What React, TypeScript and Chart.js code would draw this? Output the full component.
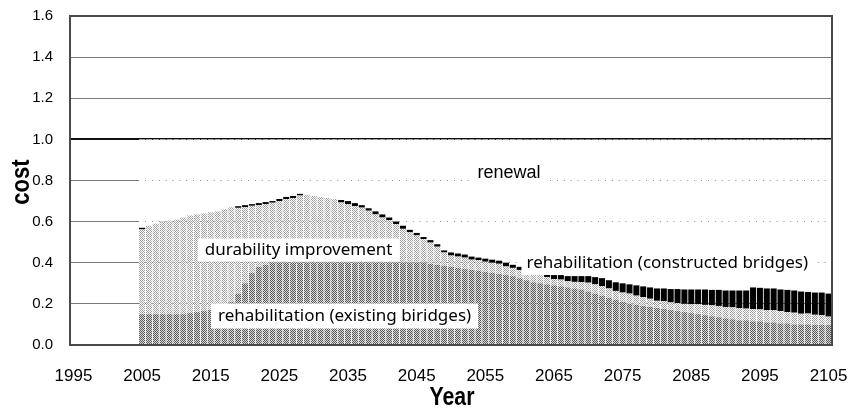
import React, { useEffect, useRef } from "react";
import { Chart, registerables } from "chart.js";

Chart.register(...registerables);

const FIRST_YEAR = 1995;
const LAST_YEAR = 2105;
const DATA_START_YEAR = 2005;
const TICK_YEARS = [1995, 2005, 2015, 2025, 2035, 2045, 2055, 2065, 2075, 2085, 2095, 2105];
const Y_MIN = 0;
const Y_MAX = 1.6;
const Y_STEP = 0.2;
const TOTAL_LEVEL = 1.0;

// values for 2005 .. 2105
const REHAB_EXISTING = [
  0.15, 0.15, 0.15, 0.15, 0.15, 0.15, 0.15, 0.155, 0.16, 0.165,
  0.17, 0.18, 0.19, 0.21, 0.25, 0.30, 0.35, 0.38, 0.39, 0.40,
  0.40, 0.40, 0.40, 0.40, 0.40, 0.40, 0.40, 0.40, 0.40, 0.40,
  0.40, 0.40, 0.40, 0.40, 0.40, 0.40, 0.40, 0.40, 0.40, 0.40,
  0.40, 0.40, 0.395, 0.39, 0.385, 0.38, 0.375, 0.37, 0.365, 0.36,
  0.355, 0.35, 0.345, 0.34, 0.335, 0.325, 0.315, 0.305, 0.30, 0.295,
  0.29, 0.285, 0.28, 0.275, 0.27, 0.26, 0.25, 0.24, 0.23, 0.22,
  0.21, 0.20, 0.195, 0.19, 0.185, 0.18, 0.175, 0.17, 0.165, 0.16,
  0.155, 0.15, 0.145, 0.14, 0.135, 0.13, 0.125, 0.12, 0.12, 0.115,
  0.115, 0.11, 0.11, 0.105, 0.105, 0.10, 0.10, 0.10, 0.098, 0.097,
  0.097,
];
const DURABILITY = [
  0.412, 0.43, 0.44, 0.45, 0.455, 0.46, 0.47, 0.475, 0.475, 0.475,
  0.475, 0.47, 0.47, 0.46, 0.417, 0.37, 0.327, 0.30, 0.295, 0.292,
  0.30, 0.31, 0.315, 0.327, 0.33, 0.325, 0.32, 0.315, 0.31, 0.293,
  0.285, 0.275, 0.268, 0.253, 0.235, 0.22, 0.208, 0.188, 0.165, 0.148,
  0.133, 0.115, 0.103, 0.088, 0.065, 0.055, 0.055, 0.055, 0.05, 0.053,
  0.05, 0.05, 0.05, 0.042, 0.04, 0.04, 0.04, 0.04, 0.04, 0.035,
  0.03, 0.033, 0.03, 0.032, 0.035, 0.043, 0.045, 0.047, 0.045, 0.043,
  0.045, 0.05, 0.045, 0.043, 0.04, 0.035, 0.038, 0.037, 0.039, 0.04,
  0.043, 0.048, 0.05, 0.053, 0.055, 0.055, 0.058, 0.06, 0.057, 0.06,
  0.058, 0.06, 0.06, 0.06, 0.055, 0.057, 0.052, 0.053, 0.049, 0.048,
  0.041,
];
const REHAB_CONSTRUCTED = [
  0.008, 0, 0, 0, 0, 0, 0, 0, 0, 0,
  0, 0, 0, 0, 0.008, 0.01, 0.008, 0.01, 0.01, 0.008,
  0.01, 0.01, 0.01, 0.008, 0, 0, 0, 0, 0, 0.012,
  0.015, 0.015, 0.012, 0.012, 0.015, 0.015, 0.012, 0.012, 0.015, 0.012,
  0.012, 0.01, 0.012, 0.012, 0.01, 0.015, 0.015, 0.015, 0.015, 0.012,
  0.015, 0.015, 0.015, 0.018, 0.015, 0.015, 0.015, 0.015, 0.015, 0.015,
  0.02, 0.022, 0.025, 0.028, 0.03, 0.032, 0.035, 0.038, 0.04, 0.042,
  0.045, 0.045, 0.05, 0.052, 0.055, 0.06, 0.062, 0.065, 0.068, 0.07,
  0.072, 0.072, 0.075, 0.075, 0.078, 0.08, 0.082, 0.085, 0.088, 0.105,
  0.105, 0.105, 0.105, 0.105, 0.108, 0.108, 0.108, 0.105, 0.108, 0.11,
  0.112,
];
const RENEWAL = [
  0.43, 0.42, 0.41, 0.40, 0.395, 0.39, 0.38, 0.37, 0.365, 0.36,
  0.355, 0.35, 0.34, 0.33, 0.325, 0.32, 0.315, 0.31, 0.305, 0.30,
  0.29, 0.28, 0.275, 0.265, 0.27, 0.275, 0.28, 0.285, 0.29, 0.295,
  0.30, 0.31, 0.32, 0.335, 0.35, 0.365, 0.38, 0.40, 0.42, 0.44,
  0.455, 0.475, 0.49, 0.51, 0.54, 0.55, 0.555, 0.56, 0.57, 0.575,
  0.58, 0.585, 0.59, 0.60, 0.61, 0.62, 0.63, 0.64, 0.645, 0.655,
  0.66, 0.66, 0.665, 0.665, 0.665, 0.665, 0.67, 0.675, 0.685, 0.695,
  0.70, 0.705, 0.71, 0.715, 0.72, 0.725, 0.725, 0.728, 0.728, 0.73,
  0.73, 0.73, 0.73, 0.732, 0.732, 0.735, 0.735, 0.735, 0.735, 0.72,
  0.722, 0.725, 0.725, 0.73, 0.732, 0.735, 0.74, 0.742, 0.745, 0.745,
  0.75,
];

const SERIES_NAMES = [
  "rehabilitation (existing biridges)",
  "durability improvement",
  "rehabilitation (constructed bridges)",
  "renewal",
];

const SANS = "'Liberation Sans', Arial, sans-serif";
const HUMANIST = "'Noto Sans', 'Open Sans', sans-serif";

function makePattern(cells: string[][]): CanvasPattern | string {
  const c = document.createElement("canvas");
  const h = cells.length;
  const w = cells[0].length;
  c.width = w;
  c.height = h;
  const ctx = c.getContext("2d");
  if (!ctx) return "#bbbbbb";
  for (let y = 0; y < h; y++) {
    for (let x = 0; x < w; x++) {
      ctx.fillStyle = cells[y][x];
      ctx.fillRect(x, y, 1, 1);
    }
  }
  const p = ctx.createPattern(c, "repeat");
  return p || "#bbbbbb";
}

export default function App() {
  const canvasRef = useRef<HTMLCanvasElement | null>(null);

  useEffect(() => {
    if (!canvasRef.current) return;
    const years: string[] = [];
    for (let y = FIRST_YEAR; y <= LAST_YEAR; y++) years.push(String(y));
    const lead = DATA_START_YEAR - FIRST_YEAR;
    const pad = (arr: number[]) => [...new Array(lead).fill(null), ...arr];

    const D = "#555555";
    const L = "#dcdcdc";
    const W = "#ffffff";
    const G = "#9c9c9c";
    const existingPattern = makePattern([
      [D, L, D, L],
      [L, D, L, D],
      [D, L, D, L],
      [L, D, L, D],
    ]);
    const durabilityPattern = makePattern([
      [G, W, G, W],
      [W, G, W, "#b8b8b8"],
      [G, W, G, W],
      [W, "#b8b8b8", W, G],
    ]);

    const labelPlugin = {
      id: "innerLabels",
      afterDatasetsDraw(chart: any) {
        const ctx = chart.ctx;
        const xs = chart.scales.x;
        const ys = chart.scales.y;
        const items = [
          { text: SERIES_NAMES[3], idx: 63.45, v: 0.837, font: `18px ${SANS}`, px: 6, h: 20 },
          { text: SERIES_NAMES[1], idx: 32.8, v: 0.462, font: `17px ${HUMANIST}`, px: 7, h: 23 },
          { text: SERIES_NAMES[0], idx: 39.5, v: 0.141, font: `17px ${HUMANIST}`, px: 7, h: 25 },
          { text: SERIES_NAMES[2], idx: 86.5, v: 0.399, font: `17px ${HUMANIST}`, px: 5, h: 24 },
        ];
        ctx.save();
        for (const it of items) {
          const cx = xs.getPixelForValue(it.idx);
          const cy = ys.getPixelForValue(it.v);
          ctx.font = it.font;
          const w = ctx.measureText(it.text).width;
          ctx.fillStyle = "#ffffff";
          ctx.fillRect(cx - w / 2 - it.px, cy - it.h / 2, w + it.px * 2, it.h);
          ctx.fillStyle = "#000000";
          ctx.textAlign = "center";
          ctx.textBaseline = "middle";
          ctx.fillText(it.text, cx, cy);
        }
        ctx.restore();
      },
      afterDraw(chart: any) {
        const ctx = chart.ctx;
        const a = chart.chartArea;
        ctx.save();
        ctx.strokeStyle = "#4a4a4a";
        ctx.lineWidth = 2;
        ctx.strokeRect(a.left, a.top, a.right - a.left, a.bottom - a.top);
        ctx.fillStyle = "#000";
        ctx.font = `bold 26px ${SANS}`;
        ctx.textAlign = "center";
        ctx.textBaseline = "middle";
        ctx.save();
        ctx.translate(452, 398);
        ctx.scale(0.82, 1);
        ctx.fillText("Year", 0, 0);
        ctx.restore();
        ctx.translate(22, 182);
        ctx.rotate(-Math.PI / 2);
        ctx.scale(0.85, 1);
        ctx.fillText("cost", 0, 0);
        ctx.restore();
      },
    };

    const common = { barPercentage: 0.88, categoryPercentage: 1, borderWidth: 0, stack: "s" };
    const isTotal = (ctx: any) => ctx.tick && Math.abs(ctx.tick.value - TOTAL_LEVEL) < 1e-6;

    const chart = new Chart(canvasRef.current, {
      type: "bar",
      data: {
        labels: years,
        datasets: [
          { label: SERIES_NAMES[0], data: pad(REHAB_EXISTING), backgroundColor: existingPattern as any, ...common },
          { label: SERIES_NAMES[1], data: pad(DURABILITY), backgroundColor: durabilityPattern as any, ...common },
          { label: SERIES_NAMES[2], data: pad(REHAB_CONSTRUCTED), backgroundColor: "#000000", ...common },
          { label: SERIES_NAMES[3], data: pad(RENEWAL), backgroundColor: "#ffffff", ...common },
        ],
      },
      options: {
        animation: false,
        responsive: true,
        maintainAspectRatio: false,
        events: [],
        layout: { padding: { left: 0, top: 16, right: 20, bottom: 0 } },
        plugins: { legend: { display: false }, tooltip: { enabled: false }, title: { display: false } },
        scales: {
          x: {
            stacked: true,
            offset: true,
            grid: { display: false, drawTicks: false },
            border: { display: false },
            ticks: {
              autoSkip: false,
              maxRotation: 0,
              minRotation: 0,
              padding: 21,
              color: "#000",
              font: { family: SANS, size: 17 },
              callback: function (this: any, _v: any, i: number) {
                const y = FIRST_YEAR + i;
                return TICK_YEARS.includes(y) ? String(y) : "";
              },
            },
            afterFit: (s: any) => {
              s.height = 66;
              s.paddingLeft = 0;
              s.paddingRight = 0;
            },
          },
          y: {
            stacked: true,
            min: Y_MIN,
            max: Y_MAX,
            grid: {
              color: (c: any) => (isTotal(c) ? "#111111" : "#7a7a7a"),
              lineWidth: (c: any) => (isTotal(c) ? 2 : 1),
              drawTicks: false,
            },
            border: { display: false },
            ticks: {
              stepSize: Y_STEP,
              padding: 17,
              color: "#000",
              font: { family: SANS, size: 15 },
              callback: (v: any) => Number(v).toFixed(1),
            },
            afterFit: (s: any) => {
              s.width = 70;
              s.paddingTop = 0;
              s.paddingBottom = 0;
            },
          },
        },
      },
      plugins: [labelPlugin],
    });
    return () => chart.destroy();
  }, []);

  return (
    <div style={{ position: "absolute", left: 0, top: 0, width: 852, height: 411, background: "#fff" }}>
      <canvas ref={canvasRef} />
    </div>
  );
}
